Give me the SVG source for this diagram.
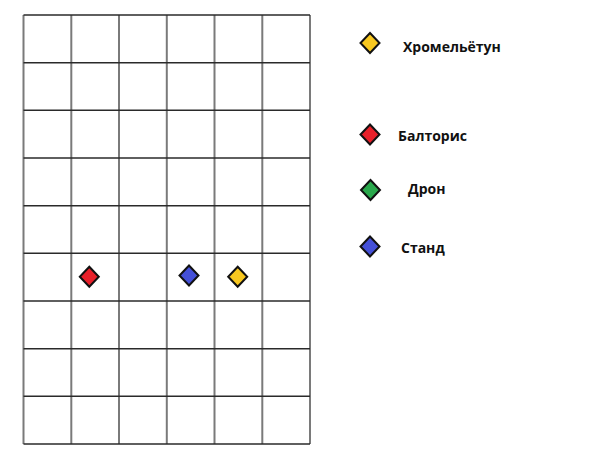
<svg xmlns="http://www.w3.org/2000/svg" width="600" height="460" viewBox="0 0 600 460">
<style>
.v{stroke:#7a7a7a;stroke-width:2}
.h{stroke:#2a2a2a;stroke-width:1.6}
.d{stroke:#111;stroke-width:2;stroke-linejoin:miter}
.t{font-family:"Open Sans","Liberation Sans",sans-serif;font-weight:bold;font-size:14px;fill:#111}
</style>
<defs>
<path id="dia" d="M0,-10 L9.5,0 L0,10 L-9.5,0 Z"/>
</defs>
<rect width="600" height="460" fill="#fff"/>
<g id="grid">
<line class="v" x1="23.5" y1="15" x2="23.5" y2="444"/>
<line class="v" x1="71.3" y1="15" x2="71.3" y2="444"/>
<line class="v" x1="119" y1="15" x2="119" y2="444"/>
<line class="v" x1="166.8" y1="15" x2="166.8" y2="444"/>
<line class="v" x1="214.5" y1="15" x2="214.5" y2="444"/>
<line class="v" x1="262.3" y1="15" x2="262.3" y2="444"/>
<line class="v" x1="310" y1="15" x2="310" y2="444"/>
<line class="h" x1="23.5" y1="15" x2="310" y2="15"/>
<line class="h" x1="23.5" y1="62.7" x2="310" y2="62.7"/>
<line class="h" x1="23.5" y1="110.3" x2="310" y2="110.3"/>
<line class="h" x1="23.5" y1="158" x2="310" y2="158"/>
<line class="h" x1="23.5" y1="205.7" x2="310" y2="205.7"/>
<line class="h" x1="23.5" y1="253.3" x2="310" y2="253.3"/>
<line class="h" x1="23.5" y1="301" x2="310" y2="301"/>
<line class="h" x1="23.5" y1="348.7" x2="310" y2="348.7"/>
<line class="h" x1="23.5" y1="396.3" x2="310" y2="396.3"/>
<line class="h" x1="23.5" y1="444" x2="310" y2="444"/>
</g>
<g id="marker-red"><use href="#dia" class="d" fill="#e8202a" x="89.3" y="276.7"/></g>
<g id="marker-blue"><use href="#dia" class="d" fill="#4450d8" x="189" y="275.5"/></g>
<g id="marker-yellow"><use href="#dia" class="d" fill="#f8c820" x="237.7" y="276.7"/></g>
<g id="legend-yellow"><use href="#dia" class="d" fill="#f8c820" x="370" y="43"/><text class="t" x="403" y="52">Хромельётун</text></g>
<g id="legend-red"><use href="#dia" class="d" fill="#e8202a" x="370" y="134.5"/><text class="t" x="398" y="141">Балторис</text></g>
<g id="legend-green"><use href="#dia" class="d" fill="#2aa84c" x="370.5" y="190"/><text class="t" x="408" y="194">Дрон</text></g>
<g id="legend-blue"><use href="#dia" class="d" fill="#4450d8" x="370" y="246.5"/><text class="t" x="401" y="253">Станд</text></g>
</svg>
